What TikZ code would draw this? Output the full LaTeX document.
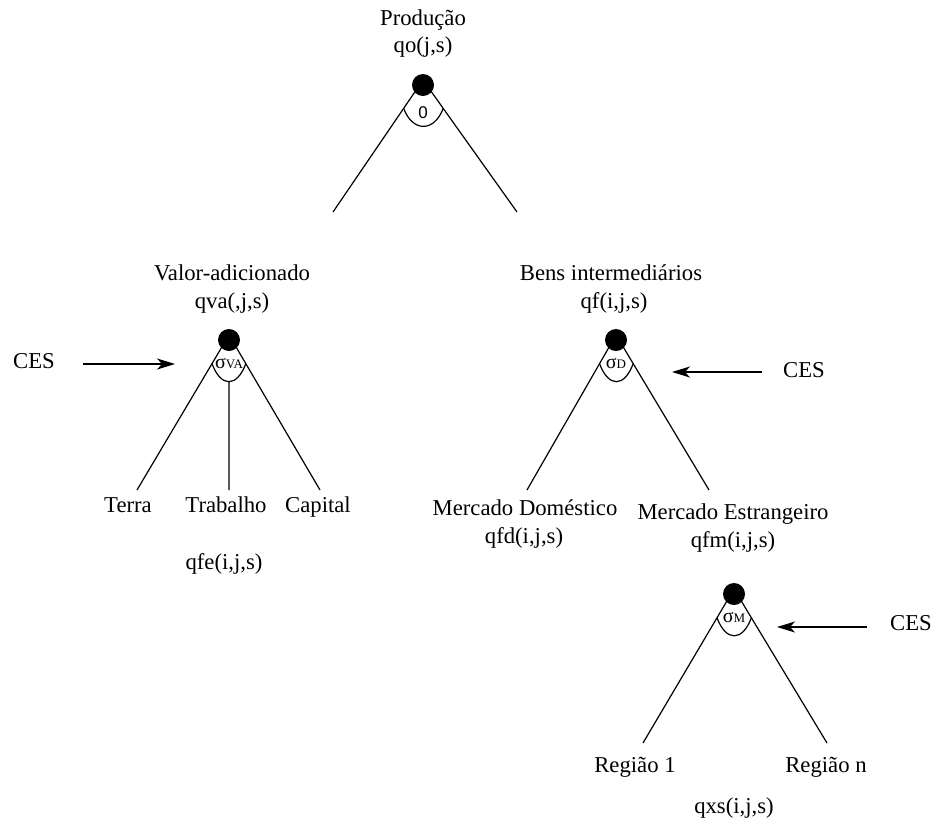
\documentclass[tikz,border=0pt]{standalone}
\usepackage{fontspec}
\setmainfont{Liberation Serif}
\newfontfamily\sansf{Liberation Sans}
\usetikzlibrary{arrows.meta,calc}
\begin{document}
\begin{tikzpicture}[x=1pt,y=-1pt,
  lbl/.style={inner sep=0pt,font=\fontsize{22.7}{28}\selectfont,text height=16pt,text depth=5pt},
  dotnode/.style={circle,fill=black,inner sep=0pt,minimum size=22pt},
  branch/.style={line width=1.2pt},
  cesarrow/.style={line width=1.2pt,-{Stealth[length=18pt,width=11pt,inset=5pt]}},
  siglbl/.style={inner sep=0pt,font=\fontsize{20}{20}\selectfont}
]
\useasboundingbox (0,0) rectangle (935,823);

% ---------- top node ----------
\node[lbl] (tProd) at (423,20) {Produção};
\node[lbl] (tqo) at (423,47) {qo(j,s)};
\coordinate (pa) at (333,212);
\coordinate (pb) at (517,212);
\coordinate (p0) at (423,80);
\draw[branch] (p0) -- (pa);
\draw[branch] (p0) -- (pb);
\coordinate (pL) at ($(p0)!0.215!(pa)$);
\coordinate (pR) at ($(p0)!0.215!(pb)$);
\draw[branch] (pL) .. controls ($(pL)+(9,24)$) and ($(pR)+(-9,24)$) .. (pR);
\node[dotnode] (p) at (423,85) {};
\node[inner sep=0pt,font=\sansf\fontsize{17}{17}\selectfont] (psig) at (423,113) {0};

% ---------- valor adicionado ----------
\node[lbl] (tVA) at (232,275) {Valor-adicionado};
\node[lbl] (tqva) at (232,303) {qva(,j,s)};
\coordinate (v0) at (229,335);
\coordinate (va) at (137,490);
\coordinate (vm) at (229,490);
\coordinate (vb) at (320,490);
\draw[branch] (v0) -- (va);
\draw[branch] (v0) -- (vb);
\coordinate (vL) at ($(v0)!0.185!(va)$);
\coordinate (vR) at ($(v0)!0.185!(vb)$);
\draw[branch] (vL) .. controls ($(vL)+(9,24)$) and ($(vR)+(-9,24)$) .. coordinate[pos=0.5] (vBot) (vR);
\draw[branch] (vBot) -- (vm);
\node[dotnode] (v) at (229,340) {};
\node[siglbl] (vsig) at (229,363) {σ\fontsize{13}{13}\selectfont VA};
\node[lbl] (ces1) at (34,363) {CES};
\coordinate (ces1a) at (83,364);
\coordinate (ces1b) at (175,364);
\draw[cesarrow] (ces1a) -- (ces1b);
\node[lbl] (terra) at (128,507) {Terra};
\node[lbl] (trab) at (226,507) {Trabalho};
\node[lbl] (cap) at (318,507) {Capital};
\node[lbl] (qfe) at (224,564) {qfe(i,j,s)};

% ---------- bens intermediarios ----------
\node[lbl] (tBI) at (611,275) {Bens intermediários};
\node[lbl] (tqf) at (614,303) {qf(i,j,s)};
\coordinate (d0) at (616,335);
\coordinate (da) at (527,490);
\coordinate (db) at (709,490);
\draw[branch] (d0) -- (da);
\draw[branch] (d0) -- (db);
\coordinate (dL) at ($(d0)!0.185!(da)$);
\coordinate (dR) at ($(d0)!0.185!(db)$);
\draw[branch] (dL) .. controls ($(dL)+(9,24)$) and ($(dR)+(-9,24)$) .. (dR);
\node[dotnode] (d) at (616,340) {};
\node[siglbl] (dsig) at (616,363) {σ\fontsize{13}{13}\selectfont D};
\node[lbl] (ces2) at (804,372) {CES};
\coordinate (ces2a) at (762,372);
\coordinate (ces2b) at (672,372);
\draw[cesarrow] (ces2a) -- (ces2b);
\node[lbl] (mdom) at (525,510) {Mercado Doméstico};
\node[lbl] (qfd) at (524,538) {qfd(i,j,s)};
\node[lbl] (mest) at (733,514) {Mercado Estrangeiro};
\node[lbl] (qfm) at (733,542) {qfm(i,j,s)};

% ---------- regioes ----------
\coordinate (m0) at (734,589);
\coordinate (ma) at (643,743);
\coordinate (mb) at (827,743);
\draw[branch] (m0) -- (ma);
\draw[branch] (m0) -- (mb);
\coordinate (mL) at ($(m0)!0.187!(ma)$);
\coordinate (mR) at ($(m0)!0.187!(mb)$);
\draw[branch] (mL) .. controls ($(mL)+(9,24)$) and ($(mR)+(-9,24)$) .. (mR);
\node[dotnode] (m) at (734,594) {};
\node[siglbl] (msig) at (734,617) {σ\fontsize{13}{13}\selectfont M};
\node[lbl] (ces3) at (911,625) {CES};
\coordinate (ces3a) at (867,627);
\coordinate (ces3b) at (777,627);
\draw[cesarrow] (ces3a) -- (ces3b);
\node[lbl] (reg1) at (635,767) {Região 1};
\node[lbl] (regn) at (826,767) {Região n};
\node[lbl] (qxs) at (734,808) {qxs(i,j,s)};
\end{tikzpicture}
\end{document}
